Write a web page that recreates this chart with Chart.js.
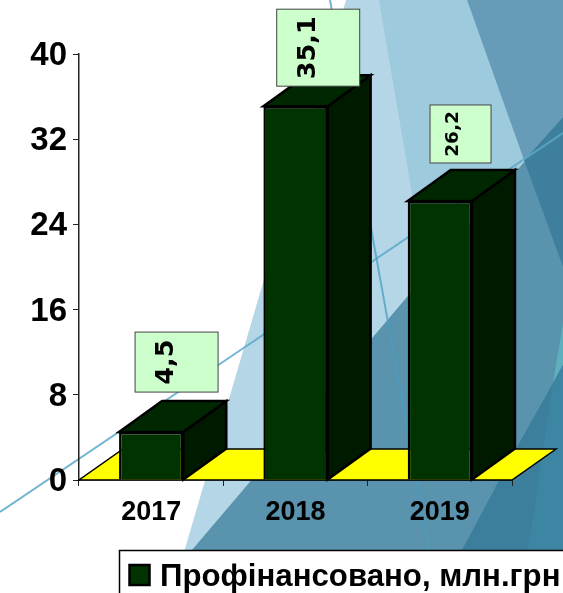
<!DOCTYPE html>
<html>
<head>
<meta charset="utf-8">
<style>
  html, body { margin: 0; padding: 0; background: #fff; overflow: hidden; }
  #bg { position: absolute; left: 0; top: 0; }
  #chart { position: absolute; left: 0; top: 0; }
</style>
</head>
<body>
<!-- decorative slide background -->
<svg id="bg" width="563" height="593">
  <polygon points="346,0 563,0 563,593 172,593" fill="#b5d6e6"/>
  <polygon points="379,0 467,0 524,160 460,240 430,300" fill="#9ecade"/>
  <polygon points="467,0 563,0 563,117 524,160" fill="#669cb8"/>
  <polygon points="155,593 192,550 407,297 563,117 563,593" fill="#5a93ad"/>
  <polygon points="524,160 563,117 563,267" fill="#3f7f9e"/>
  <polygon points="563,323 553,383 563,365" fill="#5fb0bd"/>
  <polygon points="440,593 462,550 517,447 553,383 563,365 563,593" fill="#3b7f9c"/>
  <polygon points="520,593 528,550 553,383 563,365 563,593" fill="#3c86a3"/>
  <line x1="0" y1="512" x2="563" y2="133" stroke="#5aa8c8" stroke-opacity="0.85" stroke-width="2"/>
  <line x1="330" y1="0" x2="429" y2="550" stroke="#4a9ec0" stroke-opacity="0.75" stroke-width="2"/>
</svg>
<canvas id="chart" width="563" height="593"></canvas>
<script src="https://cdn.jsdelivr.net/npm/chart.js@4/dist/chart.umd.min.js"></script>
<script>
// Chart data
const years = ['2017', '2018', '2019'];
const funded = [4.5, 35.1, 26.2];
const valueLabels = ['4,5', '35,1', '26,2'];
const yTicks = [0, 8, 16, 24, 32, 40];
const seriesName = 'Профінансовано, млн.грн';

// Label box layout, one per bar
const boxOffsetX = [25.4, 22.7, 20.7];
const boxGap = [40, 20, 38];
const boxWidth = [83, 83, 61];
const boxHeight = [60, 77, 58];
const labelFont = [25.5, 25.5, 18.5];
const textOffsetX = [-10, -10, -7];

const depthX = 43;
const depthY = 31;

// Fake 3D: floor under the bars, then side and top faces for each bar
const extrude = {
    id: 'extrude',
    beforeDatasetsDraw(chart) {
        const ctx = chart.ctx;
        const area = chart.chartArea;
        const y0 = chart.scales.y.getPixelForValue(0);

        ctx.save();
        ctx.lineJoin = 'miter';
        ctx.beginPath();
        ctx.moveTo(area.left, y0);
        ctx.lineTo(area.right, y0);
        ctx.lineTo(area.right + depthX + 1, y0 - depthY);
        ctx.lineTo(area.left + depthX + 1, y0 - depthY);
        ctx.closePath();
        ctx.fillStyle = '#ffff00';
        ctx.strokeStyle = '#000000';
        ctx.lineWidth = 1.5;
        ctx.fill();
        ctx.stroke();

        ctx.lineWidth = 2.5;
        chart.getDatasetMeta(0).data.forEach(bar => {
            const left = bar.x - bar.width / 2;
            const right = bar.x + bar.width / 2;
            // side
            ctx.beginPath();
            ctx.moveTo(right, bar.y);
            ctx.lineTo(right + depthX, bar.y - depthY);
            ctx.lineTo(right + depthX, bar.base - depthY);
            ctx.lineTo(right, bar.base);
            ctx.closePath();
            ctx.fillStyle = '#001a00';
            ctx.fill();
            ctx.stroke();
            // top
            ctx.beginPath();
            ctx.moveTo(left, bar.y);
            ctx.lineTo(left + depthX, bar.y - depthY);
            ctx.lineTo(right + depthX, bar.y - depthY);
            ctx.lineTo(right, bar.y);
            ctx.closePath();
            ctx.fillStyle = '#002800';
            ctx.fill();
            ctx.stroke();
        });
        ctx.restore();
    }
};

// Rotated value labels in green boxes, plus the legend box
const labelsAndLegend = {
    id: 'labelsAndLegend',
    afterDraw(chart) {
        const ctx = chart.ctx;
        ctx.save();
        chart.getDatasetMeta(0).data.forEach((bar, i) => {
            const cx = bar.x + boxOffsetX[i];
            const bottom = bar.y - boxGap[i];
            const w = boxWidth[i];
            const h = boxHeight[i];
            ctx.fillStyle = '#ccffcc';
            ctx.strokeStyle = '#444444';
            ctx.lineWidth = 1;
            ctx.fillRect(cx - w / 2, bottom - h, w, h);
            ctx.strokeRect(cx - w / 2, bottom - h, w, h);

            ctx.save();
            ctx.translate(cx + textOffsetX[i], bottom - h / 2);
            ctx.rotate(-Math.PI / 2);
            ctx.fillStyle = '#000000';
            ctx.font = 'bold ' + labelFont[i] + 'px "DejaVu Sans"';
            ctx.textAlign = 'center';
            ctx.textBaseline = 'middle';
            ctx.fillText(valueLabels[i], 0, 0);
            ctx.restore();
        });

        // legend
        ctx.fillStyle = '#ffffff';
        ctx.strokeStyle = '#000000';
        ctx.lineWidth = 1.5;
        ctx.fillRect(119.5, 550.5, 460, 60);
        ctx.strokeRect(119.5, 550.5, 460, 60);
        ctx.fillStyle = '#003300';
        ctx.lineWidth = 2.5;
        ctx.fillRect(129.5, 565, 20, 20);
        ctx.strokeRect(129.5, 565, 20, 20);
        ctx.fillStyle = '#000000';
        ctx.font = 'bold 31.2px "Liberation Sans"';
        ctx.textAlign = 'left';
        ctx.textBaseline = 'alphabetic';
        ctx.fillText(chart.data.datasets[0].label, 160, 586);
        ctx.restore();
    }
};

new Chart(document.getElementById('chart').getContext('2d'), {
    type: 'bar',
    data: {
        labels: years,
        datasets: [{
            label: seriesName,
            data: funded,
            backgroundColor: '#003300',
            borderColor: '#000000',
            borderWidth: 2.5,
            categoryPercentage: 1,
            barPercentage: 0.445
        }]
    },
    plugins: [extrude, labelsAndLegend],
    options: {
        responsive: false,
        animation: false,
        layout: { padding: { top: 54, right: 51, left: 0, bottom: 0 } },
        plugins: {
            legend: { display: false },
            tooltip: { enabled: false }
        },
        scales: {
            x: {
                afterFit: scale => { scale.height = 113; },
                grid: { drawOnChartArea: false, tickLength: 6, tickColor: '#222222' },
                border: { color: '#222222', width: 1.5 },
                ticks: {
                    color: '#000000',
                    padding: 10,
                    font: { family: 'Liberation Sans', weight: 'bold', size: 27 }
                }
            },
            y: {
                min: 0,
                max: 40,
                afterFit: scale => { scale.width = 79; },
                afterBuildTicks: scale => { scale.ticks = yTicks.map(v => ({ value: v })); },
                grid: { drawOnChartArea: false, tickLength: 6, tickColor: '#222222' },
                border: { color: '#222222', width: 1.5 },
                ticks: {
                    color: '#000000',
                    padding: 6,
                    labelOffset: 2,
                    font: { family: 'Liberation Sans', weight: 'bold', size: 33 }
                }
            }
        }
    }
});
</script>
</body>
</html>
